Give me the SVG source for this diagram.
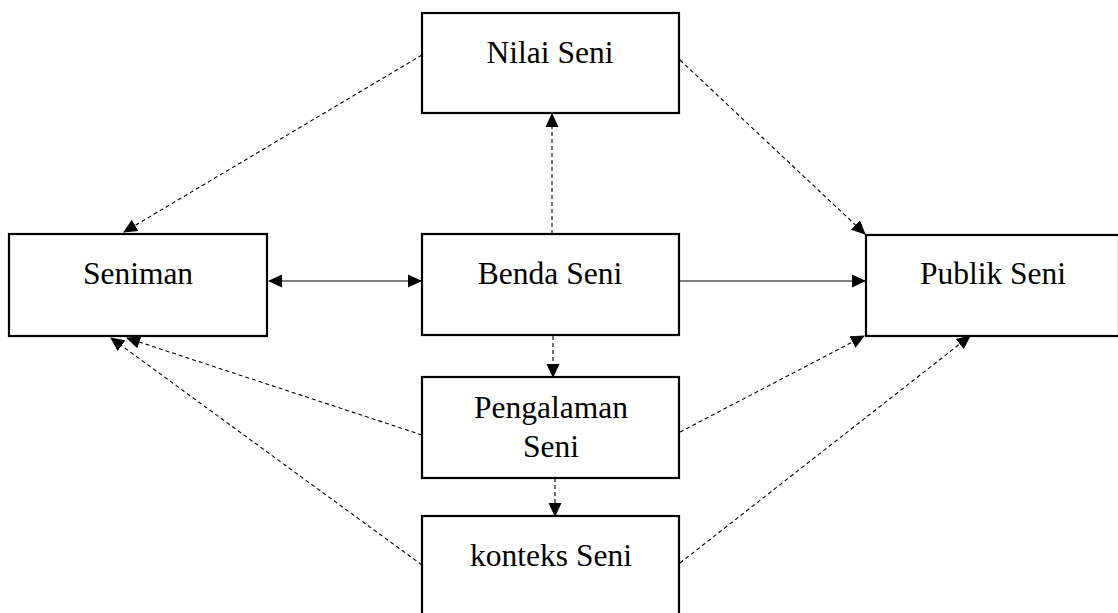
<svg xmlns="http://www.w3.org/2000/svg" width="1118" height="613" viewBox="0 0 1118 613">
<style>
.box{fill:#fff;stroke:#000;stroke-width:2.2}
.lbl{font-family:"Liberation Serif","Times New Roman",serif;font-size:31.5px;fill:#000;text-anchor:middle}
.c{fill:none;stroke:#000;stroke-width:1.1}
.d{stroke-dasharray:4 3}
</style>
<defs>
<marker id="ah" markerUnits="userSpaceOnUse" markerWidth="14" markerHeight="14" refX="13" refY="6.5" orient="auto-start-reverse" viewBox="0 0 14 13">
<path d="M0,0 L14,6.5 L0,13 z" fill="#000"/>
</marker>
</defs>
<rect width="1118" height="613" fill="#fff"/>
<g id="connectors">
<line class="c" x1="269" y1="281" x2="421" y2="281" marker-start="url(#ah)" marker-end="url(#ah)"/>
<line class="c" x1="679" y1="281" x2="865" y2="281" marker-end="url(#ah)"/>
<line class="c d" x1="552" y1="234" x2="552" y2="114" marker-end="url(#ah)"/>
<line class="c d" x1="553" y1="336" x2="553" y2="377" marker-end="url(#ah)"/>
<line class="c d" x1="555" y1="478" x2="555" y2="516" marker-end="url(#ah)"/>
<line class="c d" x1="422" y1="55" x2="124" y2="232" marker-end="url(#ah)"/>
<line class="c d" x1="680" y1="60" x2="865" y2="234" marker-end="url(#ah)"/>
<line class="c d" x1="422" y1="435" x2="127" y2="338" marker-end="url(#ah)"/>
<line class="c d" x1="680" y1="432" x2="864" y2="336" marker-end="url(#ah)"/>
<line class="c d" x1="422" y1="565" x2="111" y2="338" marker-end="url(#ah)"/>
<line class="c d" x1="680" y1="563" x2="970" y2="336" marker-end="url(#ah)"/>
</g>
<g id="nilai">
<rect class="box" x="422" y="13" width="257" height="100"/>
<text class="lbl" x="550" y="63">Nilai Seni</text>
</g>
<g id="seniman">
<rect class="box" x="9" y="234" width="258" height="102"/>
<text class="lbl" x="138" y="284">Seniman</text>
</g>
<g id="benda">
<rect class="box" x="422" y="234" width="257" height="101"/>
<text class="lbl" x="550" y="284">Benda Seni</text>
</g>
<g id="publik">
<rect class="box" x="866" y="235" width="253" height="101"/>
<text class="lbl" x="993" y="284">Publik Seni</text>
</g>
<g id="pengalaman">
<rect class="box" x="422" y="377" width="257" height="101"/>
<text class="lbl" x="551" y="418">Pengalaman</text>
<text class="lbl" x="551" y="457">Seni</text>
</g>
<g id="konteks">
<rect class="box" x="422" y="516" width="257" height="110"/>
<text class="lbl" x="551" y="566">konteks Seni</text>
</g>
</svg>
